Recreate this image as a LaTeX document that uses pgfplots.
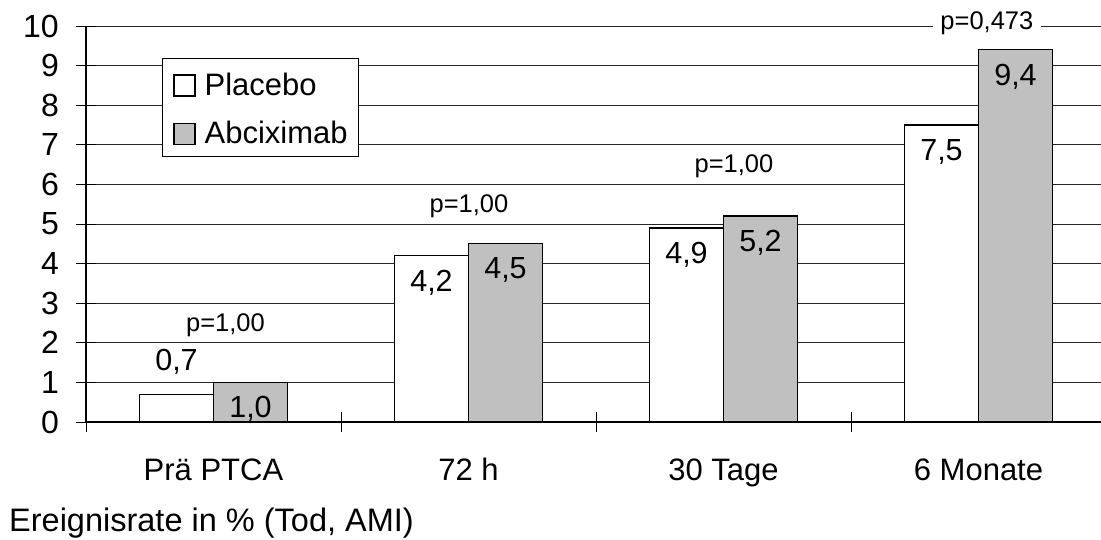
\documentclass[border=0pt]{standalone}
\usepackage{pgfplots}
\pgfplotsset{compat=1.18}
\usepackage{fontspec}
\setmainfont{Liberation Sans}
\definecolor{barfill}{HTML}{C0C0C0}

\pgfplotsset{
  sqlegend/.style={legend image code/.code={\draw[##1, line width=1.2pt] (0pt,-13pt) rectangle (21pt,8pt);}},
  valuelabel/.style={
    nodes near coords={\pgfmathprintnumber[fixed, fixed zerofill, precision=1, use comma, assume math mode=true]{\pgfplotspointmeta}},
    every node near coord/.append style={inner sep=0pt, font=\fontsize{30.5}{36}\selectfont, black},
  },
}

\begin{document}
\begin{tikzpicture}[x=1pt,y=1pt]
\useasboundingbox (0,0) rectangle (1101,540);
\begin{axis}[
  at={(86pt,118pt)}, anchor=south west,
  x=255pt, y=39.6pt,
  xmin=0, xmax=4, ymin=0, ymax=10,
  clip=false,
  axis x line*=bottom, axis y line*=left,
  axis line style={-, black, line width=1.2pt},
  ybar, bar width=74pt,
  /pgf/number format/assume math mode=true,
  ytick={0,1,2,3,4,5,6,7,8,9,10},
  yticklabels={0,1,2,3,4,5,6,7,8,9,10},
  xtick={0,1,2,3,4}, xticklabels={},
  extra x ticks={0.5,1.5,2.5,3.5},
  extra x tick labels={Prä PTCA,72 h,30 Tage,6 Monate},
  extra x tick style={major tick length=0pt, grid=none},
  tick align=center, major tick length=20pt,
  tick style={black, line width=0.9pt},
  ymajorgrids, major grid style={black!85, line width=0.9pt},
  tick label style={font=\fontsize{31}{37}\selectfont, inner sep=0pt},
  yticklabel style={anchor=east, xshift=-17pt, font=\fontsize{32}{38}\selectfont},
  xticklabel style={anchor=base, yshift=-59pt},
  legend cell align=left,
  legend style={
    at={(rel axis cs:0.0745,0.919)}, anchor=north west,
    draw=black, line width=1pt, fill=white,
    inner xsep=11pt, inner ysep=12pt,
    row sep=22pt,
    font=\fontsize{31}{37}\selectfont,
    nodes={inner sep=0pt, text height=25pt, text depth=0pt},
    /tikz/every odd column/.append style={column sep=9pt},
  },
]
% Placebo, labels inside the bar top
\addplot[fill=white, draw=black, line width=1.2pt, bar shift=-37pt, sqlegend, valuelabel,
  every node near coord/.append style={anchor=north, yshift=-13.5pt}]
  coordinates {(1.5,4.2) (2.5,4.9) (3.5,7.5)};
\addlegendentry{Placebo}
% Abciximab
\addplot[fill=barfill, draw=black, line width=1.2pt, bar shift=37pt, sqlegend, valuelabel,
  every node near coord/.append style={anchor=north, yshift=-13.5pt}]
  coordinates {(0.5,1.0) (1.5,4.5) (2.5,5.2) (3.5,9.4)};
\addlegendentry{Abciximab}
% Placebo before PTCA, label above the short bar
\addplot[fill=white, draw=black, line width=1.2pt, bar shift=-37pt, forget plot, valuelabel,
  every node near coord/.append style={anchor=south, yshift=19pt}]
  coordinates {(0.5,0.7)};

% p-values of the group comparisons
\begin{scope}[every node/.style={anchor=base, inner sep=0pt, font=\fontsize{25.5}{30}\selectfont}]
\node at (axis cs:0.547,2.28) {p=1,00};
\node at (axis cs:1.502,5.28) {p=1,00};
\node at (axis cs:2.541,6.29) {p=1,00};
\node[fill=white, inner xsep=7.5pt, inner ysep=1pt] at (axis cs:3.533,9.92) {p=0,473};
\end{scope}
\end{axis}
\node[anchor=base west, inner sep=0pt, font=\fontsize{32.5}{39}\selectfont] at (9,8.3) {Ereignisrate in \% (Tod, AMI)};
\end{tikzpicture}
\end{document}
